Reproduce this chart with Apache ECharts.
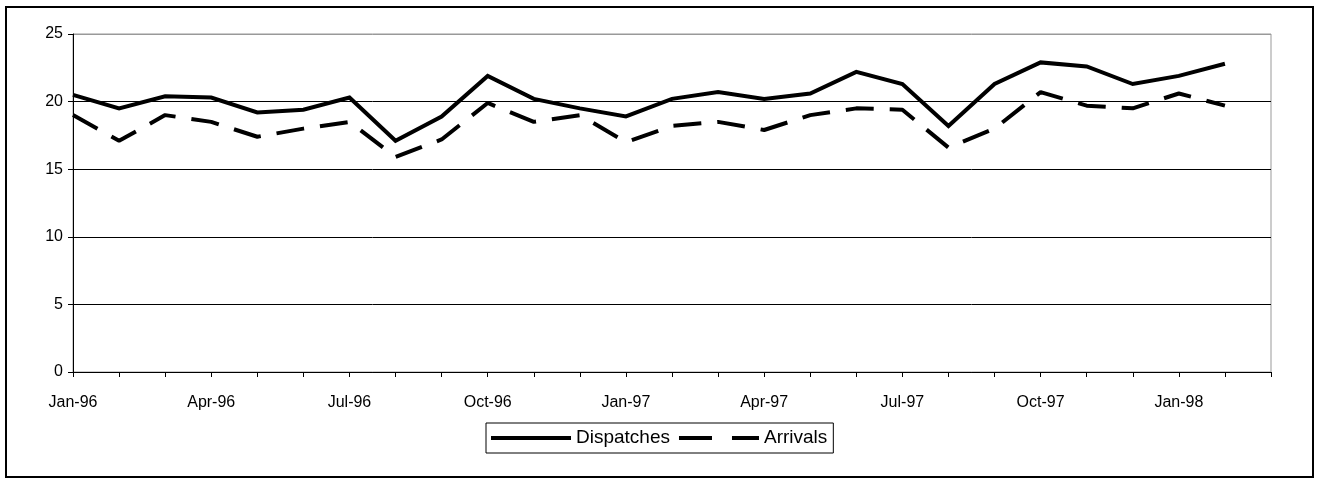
<!DOCTYPE html>
<html>
<head>
<meta charset="utf-8">
<script src="https://cdn.jsdelivr.net/npm/echarts@6/dist/echarts.min.js"></script>
<style>
html,body{margin:0;padding:0;background:#fff;}
#chart{width:1319px;height:479px;}
</style>
</head>
<body>
<div id="chart"></div>
<script>
const months = ['Jan-96','Feb-96','Mar-96','Apr-96','May-96','Jun-96','Jul-96','Aug-96','Sep-96','Oct-96','Nov-96','Dec-96',
  'Jan-97','Feb-97','Mar-97','Apr-97','May-97','Jun-97','Jul-97','Aug-97','Sep-97','Oct-97','Nov-97','Dec-97',
  'Jan-98','Feb-98','Mar-98'];
const dispatches = [20.5,19.5,20.4,20.3,19.2,19.4,20.3,17.1,18.9,21.9,20.2,19.5,
  18.9,20.2,20.7,20.2,20.6,22.2,21.3,18.2,21.3,22.9,22.6,21.3,21.9,22.8];
const arrivals = [19.0,17.1,19.0,18.5,17.4,18.0,18.5,15.9,17.2,19.9,18.5,19.0,
  17.0,18.2,18.5,17.9,19.0,19.5,19.4,16.6,18.0,20.7,19.7,19.5,20.6,19.7];
const yTicks = [0,5,10,15,20,25];

const FONT = '"Liberation Sans", Arial, sans-serif';
const chart = echarts.init(document.getElementById('chart'), null, {renderer:'canvas'});
chart.setOption({
  animation:false,
  backgroundColor:'#fff',
  textStyle:{fontFamily:FONT,color:'#000'},
  graphic:[{type:'rect',shape:{x:6,y:7,width:1307,height:470},style:{fill:'none',stroke:'#000',lineWidth:2},z:-1}],
  grid:{left:73,top:34,right:48,bottom:107,show:true,borderColor:'#999',borderWidth:1,backgroundColor:'#fff'},
  legend:{
    left:486, top:423, orient:'horizontal',
    padding:[5,6,5,5], itemGap:9, itemWidth:80, itemHeight:4,
    borderColor:'#000', borderWidth:1, borderRadius:0,
    textStyle:{fontFamily:FONT,fontSize:19,color:'#000',lineHeight:20},
    itemStyle:{color:'#000',borderWidth:0},
    data:[
      {name:'Dispatches',icon:'path://M0,0H80V4H0Z'},
      {name:'Arrivals',icon:'path://M0,0H33V4H0Z M53,0H80V4H53Z'}
    ]
  },
  xAxis:{
    type:'category', data:months, boundaryGap:false,
    axisLine:{lineStyle:{color:'#000',width:1}},
    axisTick:{show:true,interval:0,length:5,lineStyle:{color:'#000'}},
    axisLabel:{interval:2,margin:23,fontSize:16,color:'#000',fontFamily:FONT},
    splitLine:{show:false}
  },
  yAxis:{
    type:'value', min:yTicks[0], max:yTicks[yTicks.length-1], interval:5,
    axisLine:{show:true,lineStyle:{color:'#000',width:1}},
    axisTick:{show:true,length:5,lineStyle:{color:'#000'}},
    axisLabel:{margin:10,fontSize:16,color:'#000',fontFamily:FONT},
    splitLine:{show:true,lineStyle:{color:['#000','#000','#000','#000','#000','#999'],width:1}}
  },
  series:[
    {name:'Dispatches',type:'line',data:dispatches,symbol:'none',
      lineStyle:{color:'#000',width:4,type:'solid',join:'miter'},itemStyle:{color:'#000'}},
    {name:'Arrivals',type:'line',data:arrivals,symbol:'none',
      lineStyle:{color:'#000',width:4,type:[28,16]},itemStyle:{color:'#000'}}
  ]
});
</script>
</body>
</html>
